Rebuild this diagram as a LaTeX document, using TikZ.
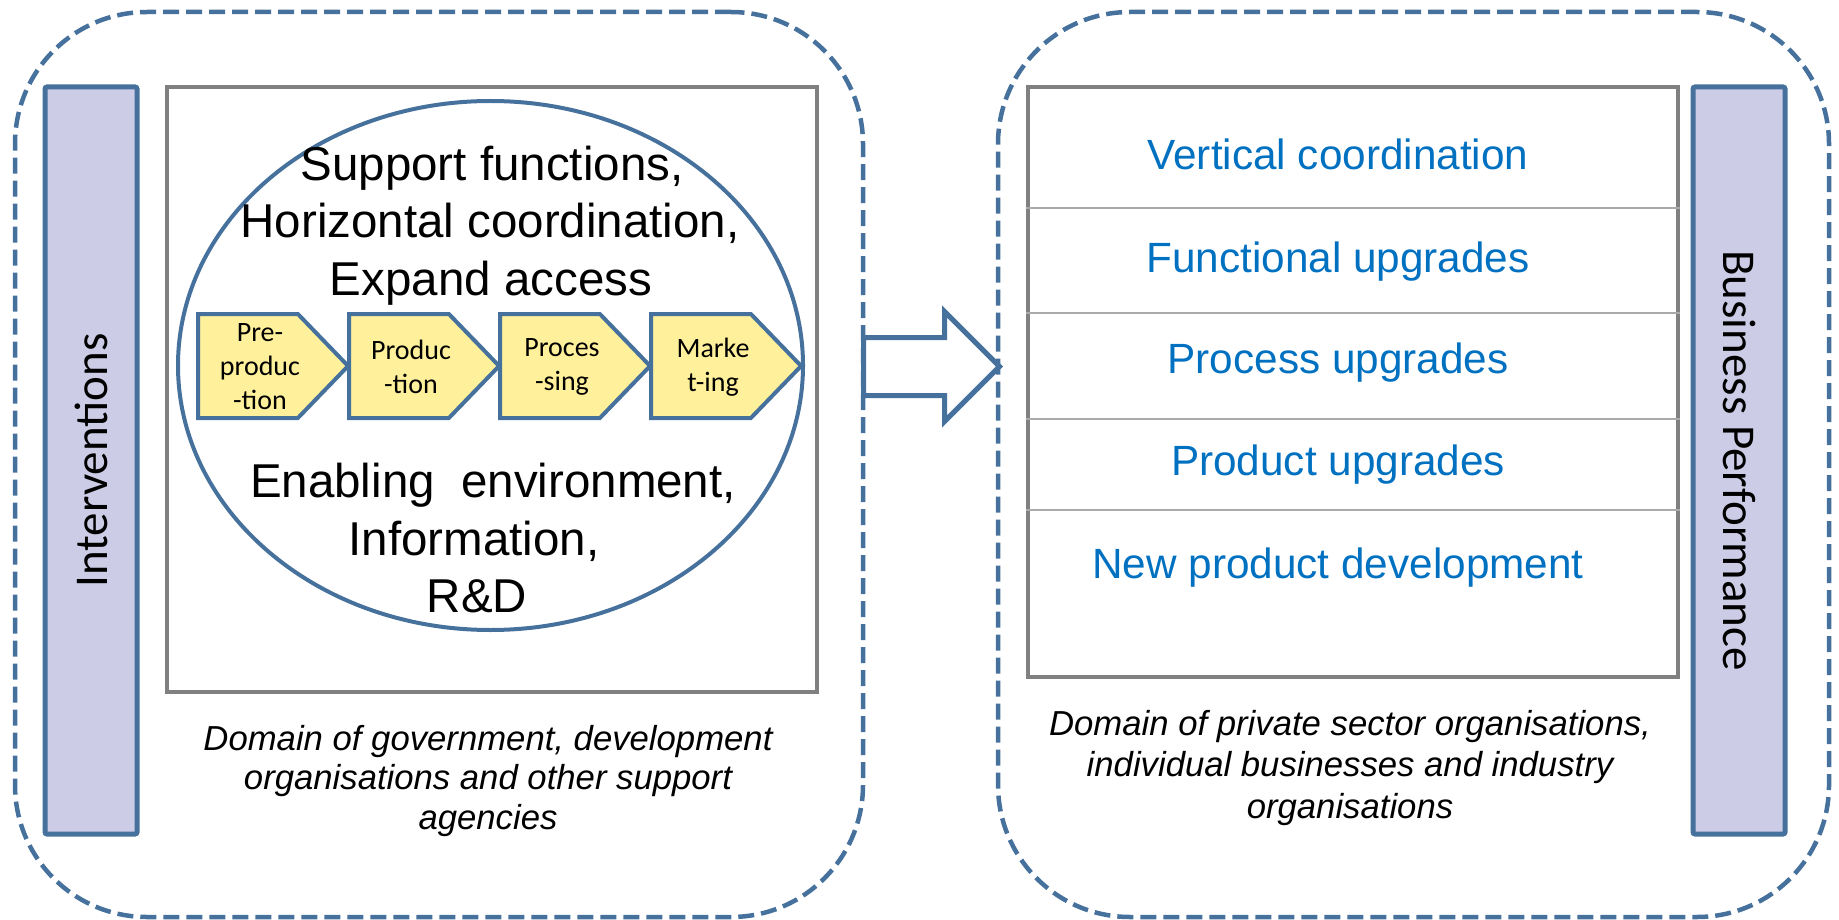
\documentclass[tikz,border=0pt]{standalone}
\usepackage{fontspec}
\setmainfont{Liberation Sans}
\newfontfamily\calibri{Carlito}
\usetikzlibrary{shapes.geometric,shapes.symbols,shapes.arrows}
\definecolor{boxblue}{RGB}{70,113,156}
\definecolor{barfill}{RGB}{204,204,230}
\definecolor{stagefill}{RGB}{255,241,156}
\definecolor{framegray}{RGB}{128,128,128}
\definecolor{rulegray}{RGB}{170,170,170}
\definecolor{upgblue}{RGB}{0,112,192}

\begin{document}
\begin{tikzpicture}[
      x=1pt, y=-1pt,
      realm/.style={draw=boxblue, line width=4.5pt, dash pattern=on 16pt off 7pt, rounded corners=132pt, minimum height=905pt},
      sidebar/.style={draw=boxblue, fill=barfill, line width=5pt, rounded corners=2pt, minimum width=747pt, minimum height=92pt, font=\calibri\fontsize{47}{56}\selectfont},
      chainbox/.style={draw=framegray, line width=4pt, minimum width=650pt},
      bigtext/.style={anchor=base, inner sep=0pt, font=\fontsize{47.5}{57}\selectfont},
      stage/.style={signal, signal to=east, signal from=nowhere, signal pointer angle=92, draw=boxblue, fill=stagefill, line width=4pt, minimum width=150pt, minimum height=104pt, inner sep=0pt},
      stagetext/.style={align=center, inner sep=0pt, font=\calibri\fontsize{28}{34}\selectfont},
      upgrade/.style={anchor=base, inner sep=0pt, text=upgblue, font=\fontsize{42.3}{50}\selectfont},
      rowrule/.style={draw=rulegray, line width=2pt},
      caption/.style={align=center, inner sep=0pt, font=\itshape\fontsize{34.7}{39.5}\selectfont},
      bigarrow/.style={single arrow, draw=boxblue, fill=white, line width=5pt, minimum height=136pt, single arrow head extend=26pt, inner sep=26.5pt}
      ]
      \useasboundingbox (0,0) rectangle (1839,920);

      \node[realm, minimum width=848pt] (gov) at (439,464.5) {};
      \node[realm, minimum width=831pt] (priv) at (1413.5,464.5) {};

      \node[sidebar, rotate=90] (interv) at (91,460.5) {Interventions};
      \node[sidebar, rotate=-90] (perf) at (1739,460.5) {Business Performance};

      \node[chainbox, minimum height=605pt] (chain) at (492,389.5) {};
      \node[ellipse, draw=boxblue, line width=4pt, minimum width=625pt, minimum height=529pt] (vc) at (490.5,365.5) {};

      \node[bigtext] (supp) at (492,181) {Support functions,};
      \node[bigtext] (horiz) at (490,237) {Horizontal coordination,};
      \node[bigtext] (access) at (491,295) {Expand access};
      \node[bigtext] (enab) at (493,497) {Enabling\ \ environment,};
      \node[bigtext] (info) at (474,555) {Information,};
      \node[bigtext] (rnd) at (477,612) {R\&D};

      \node[stage] (pre) at (248,366) {};
      \node[stage] (prod) at (399,366) {};
      \node[stage] (proc) at (550,366) {};
      \node[stage] (mkt) at (701,366) {};
      \node[stagetext] (pretxt) at (260,367) {Pre-\\produc\\-tion};
      \node[stagetext] (prodtxt) at (411,367) {Produc\\-tion};
      \node[stagetext] (proctxt) at (562,367) {Proces\\-sing};
      \node[stagetext] (mkttxt) at (713,367) {Marke\\t-ing};

      \node[caption] (govcap) at (488,781) {Domain of government, development\\organisations and other support\\agencies};

      \node[bigarrow] (flow) at (917,366.5) {};

      \node[chainbox, minimum height=590pt] (upg) at (1353,382) {};
      \draw[rowrule] (upg.west |- 0,208) -- (upg.east |- 0,208);
      \draw[rowrule] (upg.west |- 0,313) -- (upg.east |- 0,313);
      \draw[rowrule] (upg.west |- 0,419) -- (upg.east |- 0,419);
      \draw[rowrule] (upg.west |- 0,510) -- (upg.east |- 0,510);
      \node[upgrade] (vert) at (1338,170) {Vertical coordination};
      \node[upgrade] (func) at (1338,272) {Functional upgrades};
      \node[upgrade] (procup) at (1338,373) {Process upgrades};
      \node[upgrade] (produp) at (1338,475) {Product upgrades};
      \node[upgrade] (newprod) at (1338,578) {New product development};

      \node[caption, font=\itshape\fontsize{34.7}{41.5}\selectfont] (privcap) at (1350,768) {Domain of private sector organisations,\\individual businesses and industry\\organisations};
    \end{tikzpicture}
\end{document}
